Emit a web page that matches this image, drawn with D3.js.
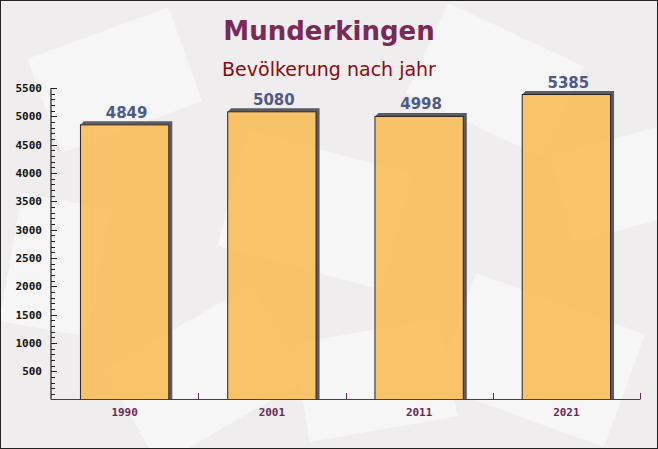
<!DOCTYPE html>
<html><head><meta charset="utf-8">
<script src="https://cdn.jsdelivr.net/npm/d3@7"></script>
<style>html,body{margin:0;padding:0;background:#fff}svg{display:block}</style>
</head><body>
<script>
const categories = ["1990", "2001", "2011", "2021"];
const values = [4849, 5080, 4998, 5385];
const yTicks = [500, 1000, 1500, 2000, 2500, 3000, 3500, 4000, 4500, 5000, 5500];
const title = "Munderkingen";
const subtitle = "Bevölkerung nach jahr";

const W = 658, H = 449;
const svg = d3.select("body").append("svg").attr("width", W).attr("height", H);

// background
svg.append("rect").attr("x",0).attr("y",0).attr("width",W).attr("height",H).attr("fill","#efedee");
const deco = [[40,30,150,100,-20],[230,150,170,120,15],[420,30,150,100,25],[120,320,170,110,-30],[450,300,180,120,20],[560,140,110,90,-15],[10,200,90,130,10],[300,330,150,100,-10]];
const dg = svg.append("g");
deco.forEach(d=>{
  dg.append("rect").attr("x",d[0]).attr("y",d[1]).attr("width",d[2]).attr("height",d[3])
    .attr("fill","#f8f7f7").attr("opacity",0.8)
    .attr("transform",`rotate(${d[4]},${d[0]+d[2]/2},${d[1]+d[3]/2})`);
});

const x = d3.scaleBand().domain(categories).range([51, 640]).paddingInner(0.4).paddingOuter(0.2);
const y = d3.scaleLinear().domain([0, 5500]).range([399.5, 88]);

// title
svg.append("text").attr("x",W/2).attr("y",40).attr("text-anchor","middle")
  .attr("font-family","'DejaVu Sans', Verdana, sans-serif").attr("font-weight","bold")
  .attr("font-size",26).attr("fill","#7b2a57").text(title);
svg.append("text").attr("x",W/2).attr("y",76).attr("text-anchor","middle")
  .attr("font-family","'DejaVu Sans', Verdana, sans-serif")
  .attr("font-size",19).attr("fill","#8b0a0a").text(subtitle);

// bars with 3D shadow
const off = 3.5;
const bg = svg.append("g");
categories.forEach((c,i)=>{
  const x0 = x(c), bw = x.bandwidth(), yt = y(values[i]), yb = y(0);
  bg.append("path")
    .attr("d", `M${x0},${yt} L${x0+off},${yt-off} L${x0+bw+off},${yt-off} L${x0+bw+off},${yb} L${x0+bw},${yb} L${x0+bw},${yt} Z`)
    .attr("fill","#5c5a62");
  bg.append("rect").attr("x",x0).attr("y",yt).attr("width",bw).attr("height",yb-yt)
    .attr("fill","#f8be5c").attr("fill-opacity",0.92).attr("stroke","#2a2222").attr("stroke-width",1);
  bg.append("text").attr("x",x0+bw/2+2).attr("y",yt-7).attr("text-anchor","middle")
    .attr("font-family","'DejaVu Sans', Verdana, sans-serif").attr("font-weight","bold")
    .attr("font-size",15).attr("fill","#4e5a86").text(values[i]);
});

// y axis
const ya = svg.append("g");
ya.append("line").attr("x1",51).attr("x2",51).attr("y1",88).attr("y2",399.5).attr("stroke","#222").attr("stroke-width",1.2);
d3.range(100, 5501, 100).forEach(v=>{
  const major = v % 500 === 0;
  ya.append("line").attr("x1",51).attr("x2",major?57:55).attr("y1",Math.round(y(v))+0.5).attr("y2",Math.round(y(v))+0.5)
    .attr("stroke","#222").attr("stroke-width",1);
});
yTicks.forEach(v=>{
  ya.append("text").attr("x",42).attr("y",y(v)+4).attr("text-anchor","end")
    .attr("font-family","'DejaVu Sans Mono', monospace").attr("font-weight","bold")
    .attr("font-size",11).attr("fill","#111").text(v);
});

// x axis
const xa = svg.append("g");
xa.append("line").attr("x1",51).attr("x2",640).attr("y1",399.5).attr("y2",399.5).attr("stroke","#6b2a55").attr("stroke-width",1.2);
categories.forEach((c,i)=>{
  const bx = 51 + (i+1)*(589/categories.length);
  xa.append("line").attr("x1",Math.round(bx)+0.5).attr("x2",Math.round(bx)+0.5).attr("y1",399.5).attr("y2",393)
    .attr("stroke","#6b2a55").attr("stroke-width",1);
  xa.append("text").attr("x",x(c)+x.bandwidth()/2).attr("y",416).attr("text-anchor","middle")
    .attr("font-family","'DejaVu Sans Mono', monospace").attr("font-weight","bold")
    .attr("font-size",11).attr("fill","#6b2a55").text(c);
});

// frame
svg.append("rect").attr("x",0.5).attr("y",0.5).attr("width",W-1).attr("height",H-1).attr("fill","none").attr("stroke","#222").attr("stroke-width",1);
</script>
</body></html>
